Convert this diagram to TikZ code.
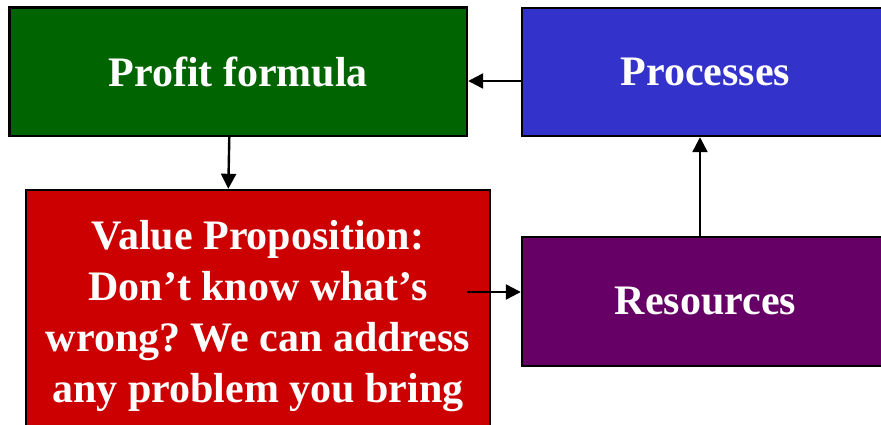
\documentclass[tikz,border=0pt]{standalone}
\usepackage{fontspec}
\setmainfont{Liberation Serif}
\usetikzlibrary{arrows.meta}
\definecolor{pgreen}{RGB}{0,100,0}
\definecolor{pblue}{RGB}{51,51,204}
\definecolor{pred}{RGB}{204,0,0}
\definecolor{ppurple}{RGB}{102,0,102}
\frenchspacing
\begin{document}
\begin{tikzpicture}[x=1pt,y=-1pt,
  box/.style={draw=black,line width=2.4pt,inner sep=0pt,text=white,
    font=\bfseries\fontsize{42}{51}\selectfont,align=center},
  arr/.style={line width=2.4pt,-{Triangle[length=15pt,width=15pt]}}]
\useasboundingbox (0,0) rectangle (881,425);
\clip (0,0) rectangle (881,425);
\node[box,fill=pgreen,minimum width=457.5pt,minimum height=128.5pt] (profit) at (238.25,71.75) {Profit formula};
\node[box,fill=pblue,minimum width=367pt,minimum height=128.2pt] (proc) at (705.5,71.9) {Processes};
\node[box,fill=pred,minimum width=464pt,minimum height=252pt] (vp) at (258,316) {\frenchspacing Value Proposition:\\Don’t know what’s\\wrong? We can address\\any problem you bring};
\node[box,fill=ppurple,minimum width=367pt,minimum height=129.3pt] (res) at (705.5,301.35) {Resources};
\coordinate (vpout) at (467,292);
\draw[arr] (proc.west |- 0,81) -- (profit.east |- 0,81);
\draw[arr] (profit.south -| 229.3,0) -- (vp.north -| 228.3,0);
\draw[arr] (vpout) -- (res.west |- vpout);
\draw[arr] (res.north -| 700,0) -- (proc.south -| 700,0);
\end{tikzpicture}
\end{document}
